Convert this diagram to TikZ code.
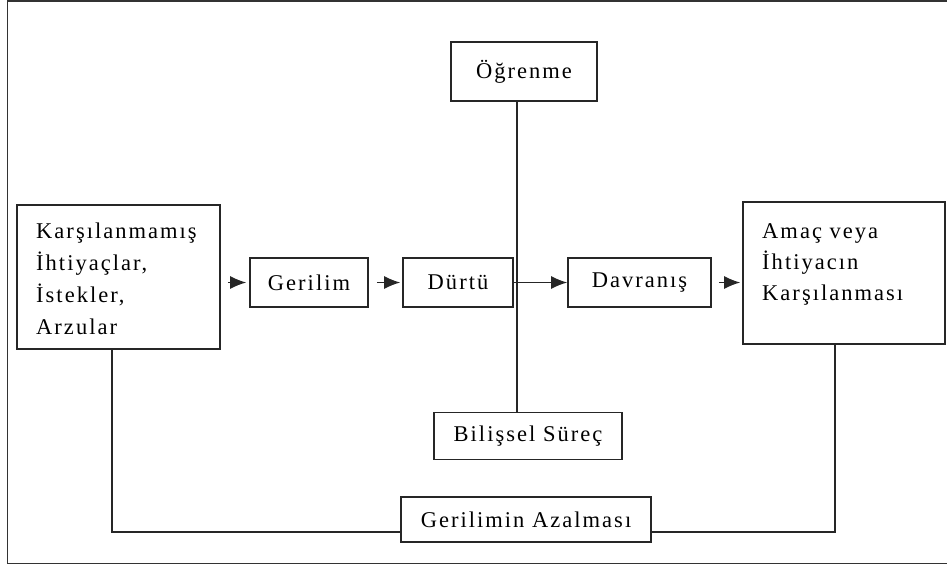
\documentclass[tikz,border=0pt]{standalone}
\usepackage{fontspec}
\setmainfont{Liberation Serif}[LetterSpace=9]
\usetikzlibrary{arrows.meta,calc}
\begin{document}
\begin{tikzpicture}[x=1pt,y=-1pt,
  box/.style={draw=black!85, line width=1.6pt, inner sep=0pt, font=\fontsize{22.5}{32}\selectfont},
  conn/.style={draw=black!85, line width=1.3pt},
  arr/.style={conn, -{Latex[length=16pt,width=13pt]}},
  txt/.style={inner sep=0pt, align=left},
  frame/.style={draw=black!80, line width=1.5pt}
]
\useasboundingbox (0,0) rectangle (947,566);
\draw[frame] (947,1) -- (7.5,1) -- (7.5,563.5) -- (947,563.5);

\node[box, minimum width=203pt, minimum height=144pt] (L) at (118.5,277) {};
\node[txt, anchor=north west, font=\fontsize{22.5}{32}\selectfont] (Lt) at (36,223) {Karşılanmamış\\İhtiyaçlar,\\İstekler,\\Arzular};
\node[box, minimum width=202pt, minimum height=142pt] (R) at (844,273) {};
\node[txt, anchor=north west, font=\fontsize{22.5}{31}\selectfont] (Rt) at (762,223) {Amaç veya\\İhtiyacın\\Karşılanması};
\node[box, minimum width=118pt, minimum height=49pt] (G) at (309,282.5) {Gerilim};
\node[box, minimum width=110pt, minimum height=49pt] (D) at (458,282.5) {Dürtü};
\node[box, minimum width=143pt, minimum height=49pt] (V) at (639.5,282.5) {Davranış};
\node[box, minimum width=146pt, minimum height=59pt] (O) at (524,71.5) {Öğrenme};
\node[box, minimum width=188pt, minimum height=47pt] (B) at (528,436) {Bilişsel Süreç};
\node[box, minimum width=250pt, minimum height=45pt] (A) at (526,519.5) {Gerilimin Azalması};

\coordinate (vx) at (517,0);
\coordinate (lx) at (112,0);
\coordinate (rx) at (835,0);
\coordinate (by) at (0,532);

\draw[conn] (O.south -| vx) -- (B.north -| vx);
\draw[arr, shorten <=7pt, shorten >=3pt] (L.east |- G.west) -- (G.west);
\draw[arr, shorten <=8pt, shorten >=2pt] (G.east) -- (D.west);
\draw[arr] (D.east) -- (V.west);
\draw[arr, shorten <=7pt, shorten >=2pt] (V.east) -- (R.west |- V.east);
\draw[conn] (L.south -| lx) -- (lx |- by) -- (A.west |- by);
\draw[conn] (R.south -| rx) -- (rx |- by) -- (A.east |- by);
\end{tikzpicture}
\end{document}
